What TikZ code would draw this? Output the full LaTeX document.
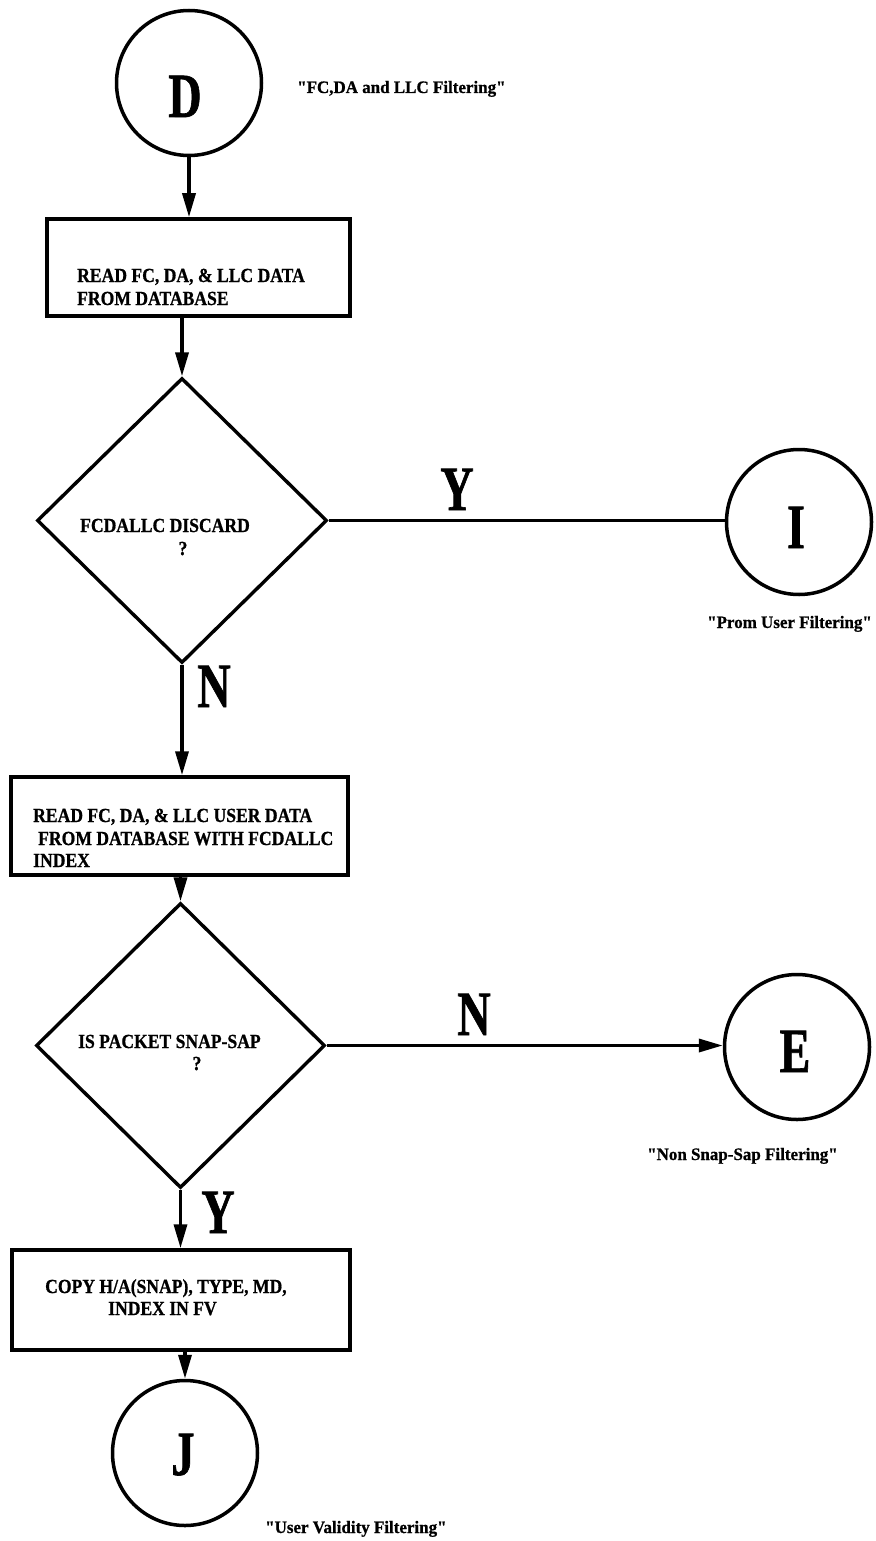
\documentclass[tikz,border=0pt]{standalone}
\usepackage{fontspec}
\setmainfont{Liberation Serif}
\newfontfamily\bigfont[FakeStretch=0.73,FakeBold=1]{Liberation Serif}
\newfontfamily\boxfont[FakeStretch=0.88,FakeBold=0.8]{Liberation Serif}
\newfontfamily\labfont[Ligatures=TeXOff,FakeStretch=0.97,FakeBold=0.8]{Liberation Serif}
\usetikzlibrary{shapes.geometric,arrows.meta}
\begin{document}
\begin{tikzpicture}[x=1pt,y=-1pt,
  conn/.style={circle,draw=black,line width=3.5pt,minimum size=145pt,inner sep=0pt},
  procbox/.style={rectangle,draw=black,line width=3.5pt,inner sep=0pt},
  decision/.style={diamond,draw=black,line width=3.4pt,inner sep=0pt},
  arr/.style={line width=3.5pt,-{Triangle[length=24pt,width=13pt]}},
  plainline/.style={line width=3.5pt},
  boxtxt/.style={font=\boxfont\bfseries\fontsize{20}{23}\selectfont,inner sep=0pt,anchor=base west},
  qtxt/.style={font=\boxfont\bfseries\fontsize{20}{23}\selectfont,inner sep=0pt,anchor=base},
  bigtxt/.style={font=\bigfont\bfseries\fontsize{63}{63}\selectfont,inner sep=0pt,anchor=base},
  labtxt/.style={font=\labfont\bfseries\fontsize{17.5}{20}\selectfont,inner sep=0pt,anchor=base west}]
\useasboundingbox (0,0) rectangle (875,1541);

% connectors (circles)
\node[conn] (D) at (189,83) {};
\node[conn] (I) at (799,522) {};
\node[conn] (E) at (797,1047) {};
\node[conn] (J) at (185,1453) {};
\node[bigtxt] (Dl) at (185,117) {D};
\node[bigtxt] (Il) at (796,548) {I};
\node[bigtxt] (El) at (795,1072) {E};
\node[bigtxt] (Jl) at (183,1475) {J};

% process boxes
\node[procbox,minimum width=303pt,minimum height=97pt] (b1) at (198.5,267.5) {};
\node[procbox,minimum width=337pt,minimum height=98pt] (b2) at (179.5,826) {};
\node[procbox,minimum width=338pt,minimum height=100pt] (b3) at (181,1300) {};

% decisions
\node[decision,minimum width=290pt,minimum height=285pt] (d1) at (182,520.5) {};
\node[decision,minimum width=289pt,minimum height=285pt] (d2) at (180.5,1045.5) {};

% box texts
\node[boxtxt] (t11) at (77,282) {READ FC, DA, \& LLC DATA};
\node[boxtxt] (t12) at (77,305) {FROM DATABASE};
\node[boxtxt] (t21) at (33,822) {READ FC, DA, \& LLC USER DATA};
\node[boxtxt] (t22) at (38,845) {FROM DATABASE WITH FCDALLC};
\node[boxtxt] (t23) at (33,867) {INDEX};
\node[boxtxt] (t31) at (45,1293) {COPY H/A(SNAP), TYPE, MD,};
\node[boxtxt] (t32) at (108,1315) {INDEX IN FV};

% decision texts
\node[boxtxt] (q11) at (80,532) {FCDALLC DISCARD};
\node[qtxt] (q12) at (183,555) {?};
\node[boxtxt] (q21) at (78,1048) {IS PACKET SNAP-SAP};
\node[qtxt] (q22) at (197,1070) {?};

% flow
\draw[arr] (D.south) -- (D.south |- b1.north);
\draw[arr] (d1.north |- b1.south) -- (d1.north);
\draw[plainline] (d1.east) -- (d1.east -| I.west);
\draw[arr] (d1.south) -- (d1.south |- b2.north);
\draw[arr] (d2.north |- b2.south) -- (d2.north);
\draw[arr] (d2.east) -- (d2.east -| E.west);
\draw[arr] (d2.south) -- (d2.south |- b3.north);
\draw[arr] (J.north |- b3.south) -- (J.north);

% branch labels
\node[bigtxt] (y1) at (457,510) {Y};
\node[bigtxt] (n1) at (214,707) {N};
\node[bigtxt] (n2) at (474,1035) {N};
\node[bigtxt] (y2) at (218,1233) {Y};

% captions
\node[labtxt] (c1) at (297,93) {"FC,DA and LLC Filtering"};
\node[labtxt] (c2) at (707,628) {"Prom User Filtering"};
\node[labtxt] (c3) at (647,1160) {"Non Snap-Sap Filtering"};
\node[labtxt] (c4) at (265,1533) {"User Validity Filtering"};
\end{tikzpicture}
\end{document}
